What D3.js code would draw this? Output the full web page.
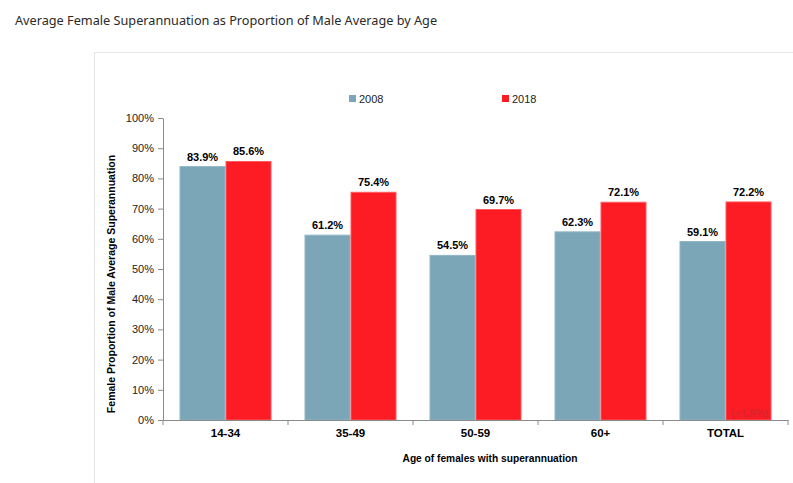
<!DOCTYPE html>
<html><head><meta charset="utf-8">
<script src="https://cdn.jsdelivr.net/npm/d3@7"></script>
<style>
body{margin:0;background:#fff;}
svg{display:block;}
</style></head>
<body>
<svg id="c" width="793" height="483"></svg>
<script>
const categories = ["14-34","35-49","50-59","60+","TOTAL"];
const series = ["2008","2018"];
const values2008 = [83.9,61.2,54.5,62.3,59.1];
const values2018 = [85.6,75.4,69.7,72.1,72.2];
const yTicks = [0,10,20,30,40,50,60,70,80,90,100];
const note = {category:"TOTAL", series:"2018", text:"(+1.9%)"};

(function(){
const colors = {"2008":"#7aa6b8","2018":"#fd1b24"};
const strokes = {"2008":"#8fb6c5","2018":"#ff5a5e"};
const F = "'Liberation Sans', Arial, sans-serif";

const svg = d3.select("#c");
svg.append("text").attr("x",15).attr("y",25)
  .attr("font-family","'Noto Sans', sans-serif").attr("font-size",12.7).attr("fill","#2a2a2a")
  .text("Average Female Superannuation as Proportion of Male Average by Age");

// frame
svg.append("rect").attr("x",94.5).attr("y",52.5).attr("width",760).attr("height",500)
  .attr("fill","none").attr("stroke","#e6e6e6");

const pL=163, pR=788, pT=118, pB=420;
const x0 = d3.scaleBand().domain(categories).range([pL,pR]).paddingInner(0.264).paddingOuter(0.132);
const x1 = d3.scaleBand().domain(series).range([0,x0.bandwidth()]);
const y = d3.scaleLinear().domain([0,100]).range([pB,pT]);

const rows = categories.map((c,i)=>({cat:c, vals:[{s:"2008",v:values2008[i]},{s:"2018",v:values2018[i]}]}));

const grp = svg.append("g").selectAll("g.cat").data(rows).join("g").attr("transform",d=>`translate(${x0(d.cat)},0)`);
grp.selectAll("rect").data(d=>d.vals).join("rect")
  .attr("x",d=>x1(d.s)+0.5).attr("width",x1.bandwidth()-1)
  .attr("y",d=>y(d.v)).attr("height",d=>y(0)-y(d.v))
  .attr("fill",d=>colors[d.s]).attr("stroke",d=>strokes[d.s]).attr("stroke-width",1);
grp.selectAll("text.val").data(d=>d.vals).join("text").attr("class","val")
  .attr("x",d=>x1(d.s)+x1.bandwidth()/2).attr("y",d=>y(d.v)-6)
  .attr("text-anchor","middle").attr("font-family",F)
  .attr("font-weight","bold").attr("font-size",11).attr("fill","#000")
  .text(d=>d.v.toFixed(1)+"%");

// note
svg.append("text").attr("x",x0(note.category)+x1(note.series)+x1.bandwidth()/2+1).attr("y",y(0)-3)
  .attr("text-anchor","middle").attr("font-family",F)
  .attr("font-weight","bold").attr("font-size",10.5).attr("fill","#d8262c")
  .text(note.text);

// y axis
const ya = svg.append("g").attr("transform",`translate(${pL},0)`)
  .call(d3.axisLeft(y).tickValues(yTicks).tickFormat(d=>d+"%").tickSize(5).tickSizeOuter(0));
ya.select(".domain").attr("stroke","#8a8a8a");
ya.selectAll(".tick line").attr("stroke","#8a8a8a");
ya.selectAll(".tick text").attr("font-family",F).attr("font-size",11).attr("fill","#222").attr("x",-9);

// x axis
const xa = svg.append("g").attr("transform",`translate(0,${pB})`)
  .call(d3.axisBottom(x0).tickSize(0).tickSizeOuter(0));
xa.select(".domain").attr("stroke","#8a8a8a");
xa.selectAll(".tick text").attr("font-family",F).attr("font-size",11.5)
  .attr("font-weight","bold").attr("fill","#000").attr("dy","1.2em");
const sepPos = [pL].concat(categories.map((c,i)=>pL + x0.step()*(i+1)));
svg.append("g").selectAll("line").data(sepPos).join("line")
  .attr("x1",p=>p).attr("x2",p=>p).attr("y1",pB).attr("y2",pB+5).attr("stroke","#8a8a8a");

// axis titles
svg.append("text").attr("x",490).attr("y",462).attr("text-anchor","middle")
  .attr("font-family",F).attr("font-size",10.2).attr("font-weight","bold").attr("fill","#000")
  .text("Age of females with superannuation");
svg.append("text").attr("transform",`translate(115,284) rotate(-90)`).attr("text-anchor","middle")
  .attr("font-family",F).attr("font-size",10.5).attr("font-weight","bold").attr("fill","#000")
  .text("Female Proportion of Male Average Superannuation");

// legend
const legX = {"2008":349,"2018":502};
series.forEach(s=>{
  svg.append("rect").attr("x",legX[s]).attr("y",95).attr("width",7).attr("height",7).attr("fill",colors[s]);
  svg.append("text").attr("x",legX[s]+10).attr("y",102.5).attr("font-family",F)
    .attr("font-size",11).attr("fill","#222").text(s);
});
})();
</script>
</body></html>
